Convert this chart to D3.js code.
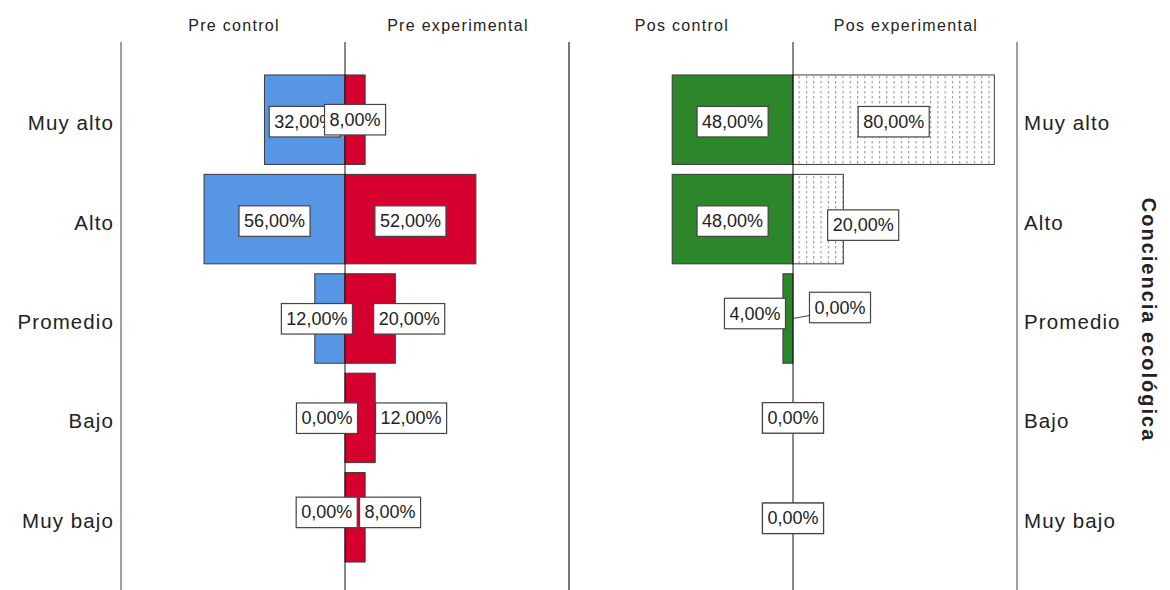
<!DOCTYPE html>
<html><head><meta charset="utf-8">
<script src="https://cdn.jsdelivr.net/npm/d3@7"></script>
<style>
html,body{margin:0;padding:0;background:#fff;}
svg text{font-family:"Liberation Sans",Arial,sans-serif;fill:#222;}
</style></head>
<body><svg id="chart" width="1170" height="590"></svg>
<script>
// ---- data ----
const categories = ["Muy alto","Alto","Promedio","Bajo","Muy bajo"];
const preControl = [32,56,12,0,0];
const preExperimental = [8,52,20,12,8];
const posControl = [48,48,4,0,0];
const posExperimental = [80,20,0,0,0];
const groupLabels = ["Pre control","Pre experimental","Pos control","Pos experimental"];
const axisTitle = "Conciencia ecológica";

// ---- layout ----
const svg = d3.select("#chart");
const defs = svg.append("defs");
const pat = defs.append("pattern").attr("id","dots").attr("patternUnits","userSpaceOnUse")
  .attr("width",7.3).attr("height",5).attr("x",2).attr("y",0);
pat.append("rect").attr("width",7.3).attr("height",5).attr("fill","#fff");
pat.append("rect").attr("x",1).attr("y",1).attr("width",1).attr("height",2.4).attr("fill","#8a8a8a");

const x = d3.scaleLinear().domain([0,89]).range([0,224]);
const y = d3.scaleBand().domain(categories).range([70,567]).paddingInner(0.1).paddingOuter(0.05);

const panels = [
  {center:345, left:121, right:569, left_s:preControl, right_s:preExperimental,
   lfill:"#5796e4", rfill:"#d6002f", key:"pre"},
  {center:793, left:569, right:1017, left_s:posControl, right_s:posExperimental,
   lfill:"#2c862a", rfill:"url(#dots)", key:"pos"}
];

// label adjustments (collision avoidance as in the original)
const adjust = {
  "pre-R-Muy alto":{dx:0,dy:-2},
  "pre-L-Promedio":{dx:-13,dy:-1.7},
  "pre-R-Promedio":{dx:39,dy:-1.7},
  "pre-L-Bajo":{dx:-18,dy:-1.7},
  "pre-R-Bajo":{dx:51,dy:-1.7},
  "pre-L-Muy bajo":{dx:-18.3,dy:-6.9},
  "pre-R-Muy bajo":{dx:35,dy:-6.9},
  "pos-R-Alto":{dx:45,dy:4},
  "pos-L-Promedio":{dx:-33,dy:-7},
  "pos-R-Promedio":{dx:47,dy:-13,leader:true},
  "pos-L-Bajo":{dx:0,dy:-2},
  "pos-R-Bajo":{dx:0,dy:-2},
  "pos-L-Muy bajo":{dx:0,dy:-1},
  "pos-R-Muy bajo":{dx:0,dy:-1}
};

const fmt = v => d3.format(".2f")(v).replace(".",",") + "%";

// vertical frame lines
[121,569,1017].forEach((px,i)=>{
  svg.append("line").attr("x1",px).attr("x2",px).attr("y1",42).attr("y2",590)
    .attr("stroke", i===1 ? "#777" : "#a0a0a0").attr("stroke-width",2);
});

// headers
panels.forEach((p,pi)=>{
  [[ (p.left+p.center)/2, groupLabels[pi*2] ], [ (p.center+p.right)/2, groupLabels[pi*2+1] ]]
  .forEach(([cx,t])=>{
    svg.append("text").attr("x",cx+1).attr("y",31).attr("text-anchor","middle")
      .attr("font-size",16).attr("letter-spacing","1.3px").text(t);
  });
});

// bars
const labelsToDraw = [];
panels.forEach(p=>{
  const g = svg.append("g");
  g.selectAll("rect.l").data(categories).join("rect")
    .attr("x",(d,i)=>p.center - x(p.left_s[i])).attr("width",(d,i)=>x(p.left_s[i]))
    .attr("y",d=>y(d)).attr("height",y.bandwidth())
    .attr("fill",p.lfill).attr("stroke",(d,i)=>p.left_s[i]>0?"#3a3a3a":"none").attr("stroke-width",1);
  g.selectAll("rect.r").data(categories).join("rect")
    .attr("x",p.center).attr("width",(d,i)=>x(p.right_s[i]))
    .attr("y",d=>y(d)).attr("height",y.bandwidth())
    .attr("fill",p.rfill).attr("stroke",(d,i)=>p.right_s[i]>0?"#3a3a3a":"none").attr("stroke-width",1);
  // center line
  svg.append("line").attr("x1",p.center).attr("x2",p.center).attr("y1",42).attr("y2",590)
    .attr("stroke","#111").attr("stroke-width",1);
  categories.forEach((c,i)=>{
    const cy = y(c) + y.bandwidth()/2 + 2;
    const lv = p.left_s[i], rv = p.right_s[i];
    labelsToDraw.push({key:`${p.key}-L-${c}`, x:p.center - x(lv)/2, y:cy, v:lv, cx:p.center, by:cy});
    labelsToDraw.push({key:`${p.key}-R-${c}`, x:p.center + x(rv)/2, y:cy, v:rv, cx:p.center, by:cy});
  });
});

// value labels
const lg = svg.append("g");
labelsToDraw.forEach(L=>{
  const a = adjust[L.key] || {dx:0,dy:0};
  const lx = L.x + a.dx, ly = L.y + a.dy;
  const g = lg.append("g");
  const rect = g.append("rect");
  const t = g.append("text").attr("x",lx).attr("y",ly).attr("text-anchor","middle")
    .attr("dominant-baseline","central").attr("font-size",18).text(fmt(L.v));
  const w = t.node().getComputedTextLength() + 10, h = 30.5;
  rect.attr("x",lx - w/2).attr("y",ly - h/2).attr("width",w).attr("height",h)
    .attr("fill","#fff").attr("stroke","#444").attr("stroke-width",1.2);
  if (a.leader){
    g.insert("line","rect").attr("x1",L.cx).attr("y1",L.by - 2).attr("x2",lx - w/2).attr("y2",ly + 8)
      .attr("stroke","#444").attr("stroke-width",1.2);
  }
});

// category tick labels
categories.forEach(c=>{
  const cy = y(c) + y.bandwidth()/2 + 3;
  svg.append("text").attr("x",114).attr("y",cy).attr("text-anchor","end")
    .attr("dominant-baseline","central").attr("font-size",20.5).attr("letter-spacing","1.1px").text(c);
  svg.append("text").attr("x",1024).attr("y",cy).attr("text-anchor","start")
    .attr("dominant-baseline","central").attr("font-size",20.5).attr("letter-spacing","1.1px").text(c);
});

// axis title (rotated)
svg.append("text").attr("transform","translate(1149,320) rotate(90)")
  .attr("text-anchor","middle").attr("dominant-baseline","central")
  .attr("font-size",20).attr("font-weight","bold").attr("letter-spacing","2px").text(axisTitle);
</script></body></html>
